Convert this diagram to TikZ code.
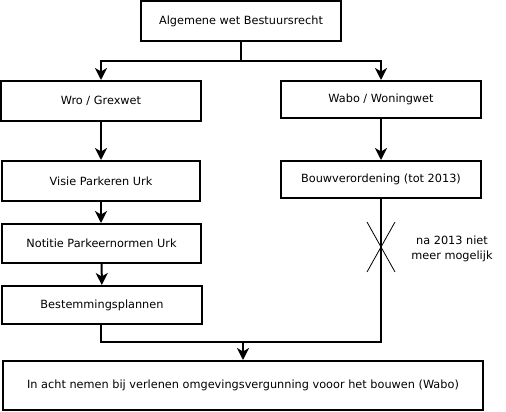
\documentclass[tikz,border=0pt]{standalone}
\usepackage{fontspec}
\setmainfont{DejaVu Sans}
\usetikzlibrary{arrows.meta,calc}
\begin{document}
\begin{tikzpicture}[x=1pt,y=-1pt,
  box/.style={draw,line width=2pt,inner sep=0pt,font=\fontsize{11.3}{13}\selectfont},
  conn/.style={line width=2pt},
  arr/.style={conn,-{Stealth[length=12pt,width=12pt,inset=3.5pt]}},
  lbl/.style={font=\fontsize{11.3}{15.5}\selectfont,align=center}]
\useasboundingbox (0,0) rectangle (506,412);
\fill[white] (0,0) rectangle (506,412);
\node[box,minimum width=200pt,minimum height=40pt] (awb) at (241,21) {Algemene wet Bestuursrecht};
\node[box,minimum width=200pt,minimum height=40pt] (wro) at (101,101) {Wro / Grexwet};
\node[box,minimum width=200pt,minimum height=37pt] (wabo) at (381,99.5) {Wabo / Woningwet};
\node[box,minimum width=198pt,minimum height=40pt] (visie) at (101,181) {Visie Parkeren Urk};
\node[box,minimum width=200pt,minimum height=37pt] (bouw) at (381,179.5) {Bouwverordening (tot 2013)};
\node[box,minimum width=199pt,minimum height=39pt] (noti) at (101.5,243.5) {Notitie Parkeernormen Urk};
\node[box,minimum width=200pt,minimum height=38pt] (best) at (102,305) {Bestemmingsplannen};
\node[box,minimum width=480pt,minimum height=49pt] (inacht) at (243,385.5) {In acht nemen bij verlenen omgevingsvergunning vooor het bouwen (Wabo)};
\coordinate (split) at (241,61);
\coordinate (join) at (243,342);
\coordinate (xc) at (381,247);
\draw[conn] (awb.south) -- (split);
\draw[arr] (split) -| (wro.north);
\draw[arr] (split) -| (wabo.north);
\draw[arr] (wro) -- (visie);
\draw[arr] (wabo) -- (bouw);
\draw[arr] (visie.south) -- (noti.north -| visie.south);
\draw[arr] (noti) -- (best);
\draw[conn] (best.south -| wro.south) |- (join) -| (bouw.south);
\draw[arr] (join) -- (inacht.north -| join);
\draw[line width=0.8pt] ($(xc)+(-14,-25)$) -- ($(xc)+(14,25)$);
\draw[line width=0.8pt] ($(xc)+(14,-25)$) -- ($(xc)+(-14,25)$);
\node[lbl] (na) at (452,249) {na 2013 niet\\meer mogelijk};
\end{tikzpicture}
\end{document}
